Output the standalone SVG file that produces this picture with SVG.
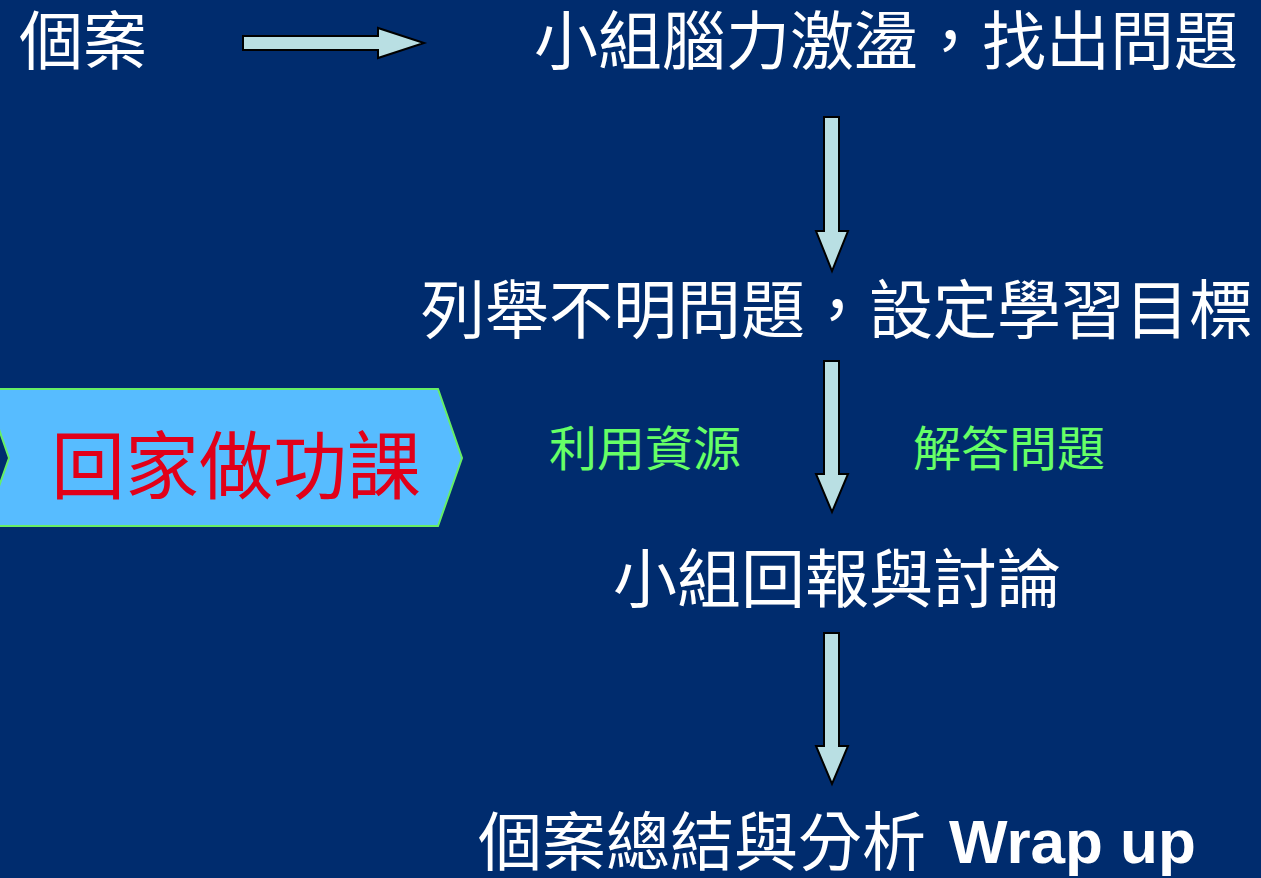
<svg xmlns="http://www.w3.org/2000/svg" width="1261" height="878" viewBox="0 0 1261 878">
<style>
.w{fill:#FFFFFF;font-family:"Noto Sans CJK TC","Noto Sans CJK SC",sans-serif;font-size:64px}
.g{fill:#66FF66;font-family:"Noto Sans CJK TC","Noto Sans CJK SC",sans-serif;font-size:48px}
.r{fill:#E10019;font-family:"Noto Sans CJK TC","Noto Sans CJK SC",sans-serif;font-size:74px}
.en{font-family:"Liberation Sans",Arial,sans-serif;font-weight:bold;font-size:62px}
.arr{fill:#B9DFE3;stroke:#000000;stroke-width:2;stroke-linejoin:miter}
</style>
<rect x="0" y="0" width="1261" height="878" fill="#002C6E"/>
<g id="connectors">
<polygon class="arr" points="243,36 378,36 378,28 424,43 378,58 378,50 243,50"/>
<polygon class="arr" points="824,117 839,117 839,231 848,231 832,271 816,231 824,231"/>
<polygon class="arr" points="824,361 839,361 839,474 848,474 832,512 816,474 824,474"/>
<polygon class="arr" points="824,633 839,633 839,746 848,746 832,784 816,746 824,746"/>
</g>
<g id="case"><text class="w" x="19" y="64">個案</text></g>
<g id="brainstorm"><text class="w" x="534" y="64">小組腦力激盪，找出問題</text></g>
<g id="objectives"><text class="w" x="421" y="333">列舉不明問題，設定學習目標</text></g>
<g id="homework">
<polygon points="-15,389 438,389 462,458 438,526 -15,526 9,458" fill="#57BCFF" stroke="#66EE66" stroke-width="2"/>
<text class="r" x="51" y="493">回家做功課</text>
</g>
<g id="resources"><text class="g" x="549" y="466">利用資源</text></g>
<g id="answer"><text class="g" x="913" y="466">解答問題</text></g>
<g id="report"><text class="w" x="613" y="602">小組回報與討論</text></g>
<g id="wrapup"><text class="w" x="478" y="865">個案總結與分析<tspan class="en" x="949" y="863">Wrap up</tspan></text></g>
</svg>
